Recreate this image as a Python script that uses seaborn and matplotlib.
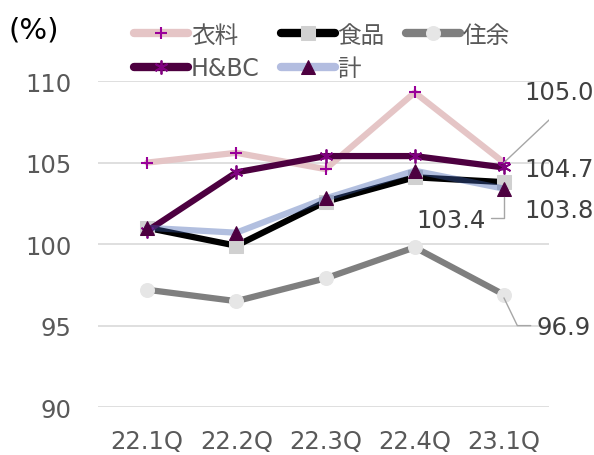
import pandas as pd
import matplotlib.pyplot as plt
import seaborn as sns

# Data
quarters = ['22.1Q', '22.2Q', '22.3Q', '22.4Q', '23.1Q']
clothing = [105.0, 105.6, 104.6, 109.3, 105.0]   # 衣料
food = [101.0, 99.9, 102.6, 104.1, 103.8]        # 食品
living = [97.2, 96.5, 97.9, 99.8, 96.9]          # 住余
hbc = [100.8, 104.4, 105.4, 105.4, 104.7]        # H&BC
total = [101.0, 100.7, 102.8, 104.5, 103.4]      # 計

sns.set_theme(style='white')
plt.rcParams['font.family'] = ['DejaVu Sans', 'Noto Sans CJK JP']

fig = plt.figure(figsize=(5.94, 4.56), dpi=100)
ax = fig.add_axes([0.165, 0.105, 0.760, 0.715])

x = list(range(len(quarters)))
series = [
    ('衣料', clothing, dict(color='#E5C5C6', marker='+', mfc='#990099', mec='#990099', ms=9, mew=1.5)),
    ('食品', food, dict(color='#000000', marker='s', mfc='#D0D0D0', mec='#D0D0D0', ms=10)),
    ('住余', living, dict(color='#7F7F7F', marker='o', mfc='#E6E6E6', mec='#E6E6E6', ms=10)),
    ('H&BC', hbc, dict(color='#4D0040', marker=(6, 2, 0), mfc='#800080', mec='#800080', ms=10, mew=1.3)),
    ('計', total, dict(color=(0.25, 0.38, 0.69, 0.4), marker='^', mfc='#4D0040', mec='#4D0040', ms=10)),
]

handles = {}
for name, vals, kw in series:
    df = pd.DataFrame({'x': x, 'y': vals})
    sns.lineplot(data=df, x='x', y='y', ax=ax, lw=4.5, solid_capstyle='round', **kw)
    handles[name] = ax.lines[-1]

ax.set_xlim(-0.55, 4.51)
ax.set_ylim(90, 110)
ax.set_yticks([90, 95, 100, 105, 110])
ax.set_xticks(x)
ax.set_xticklabels(quarters)
ax.set_xlabel('')
ax.set_ylabel('')
ax.grid(axis='y', color='#D9D9D9', lw=1.2)
ax.set_axisbelow(True)
for s in ax.spines.values():
    s.set_visible(False)
ax.tick_params(axis='both', colors='#595959', labelsize=17.5, length=0)
ax.tick_params(axis='y', pad=19)
ax.tick_params(axis='x', pad=16)

# (%) unit label
fig.text(0.015, 0.915, '(%)', fontsize=21, color='#000000')

# Legend (row-wise order)
order = ['衣料', 'H&BC', '食品', '計', '住余']
leg = fig.legend([handles[n] for n in order], order, ncol=3, loc='upper left',
                 bbox_to_anchor=(0.19, 0.995), frameon=False, fontsize=17,
                 handlelength=2.3, columnspacing=0.9, handletextpad=0.1,
                 labelspacing=0.4, labelcolor='#595959')
for h in leg.legend_handles:
    h.set_linewidth(6)
leg.legend_handles[3].set_color('#B3BDE0')

# Value labels at the last quarter
lc = '#A6A6A6'
tc = '#404040'
fs = 17.5
ax.text(4.23, 109.3, '105.0', fontsize=fs, color=tc, va='center', ha='left')
ax.plot([4.0, 4.6], [105.0, 108.1], color=lc, lw=1)
ax.text(4.23, 104.6, '104.7', fontsize=fs, color=tc, va='center', ha='left')
ax.text(4.23, 102.1, '103.8', fontsize=fs, color=tc, va='center', ha='left')
ax.plot([3.86, 4.0, 4.0], [101.6, 101.6, 102.9], color=lc, lw=1)
ax.text(3.8, 101.5, '103.4', fontsize=fs, color=tc, va='center', ha='right')
ax.plot([4.0, 4.15, 4.3], [96.7, 95.0, 95.0], color=lc, lw=1)
ax.text(4.37, 94.9, '96.9', fontsize=fs, color=tc, va='center', ha='left')

plt.savefig('out.png', dpi=100)
